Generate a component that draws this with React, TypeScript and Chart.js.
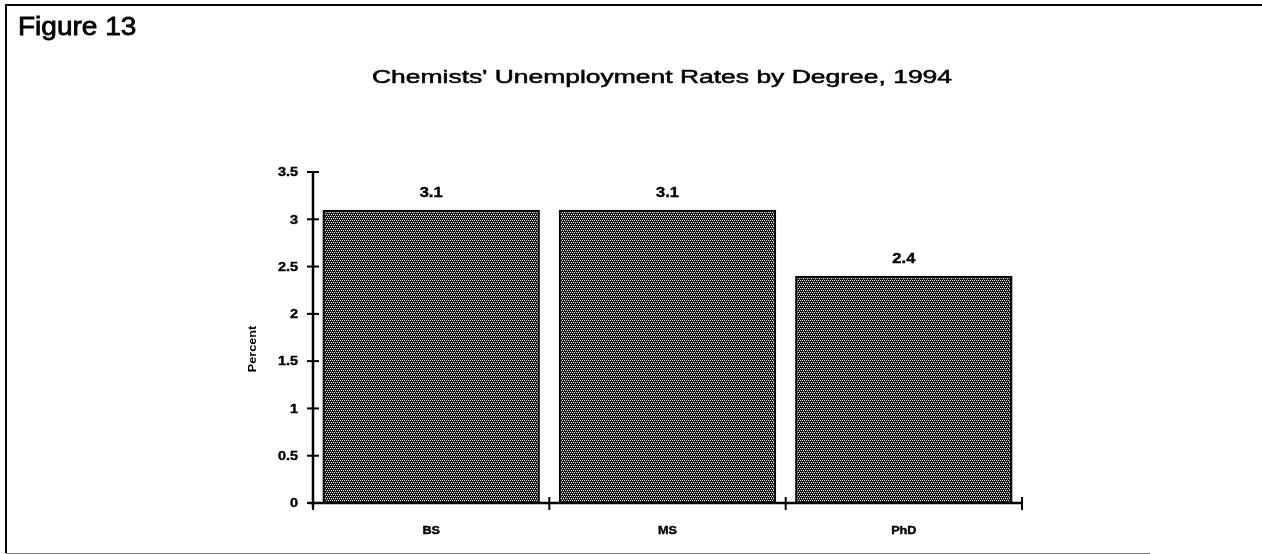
import React, { useEffect, useRef } from "react";
import { Chart, registerables } from "chart.js";

Chart.register(...registerables);

const figureLabel = "Figure 13";
const chartTitle = "Chemists' Unemployment Rates by Degree, 1994";
const categories = ["BS", "MS", "PhD"];
const rates = [3.1, 3.1, 2.4];
const rateLabels = ["3.1", "3.1", "2.4"];
const yTickValues = [0, 0.5, 1, 1.5, 2, 2.5, 3, 3.5];
const yTickLabels = ["0", "0.5", "1", "1.5", "2", "2.5", "3", "3.5"];
const yAxisTitle = "Percent";

const FONT = "Arial, 'Liberation Sans', sans-serif";

function makePattern(): CanvasPattern | string {
  const c = document.createElement("canvas");
  c.width = 4;
  c.height = 4;
  const g = c.getContext("2d");
  if (!g) return "#444";
  g.fillStyle = "#0a0a0a";
  g.fillRect(0, 0, 4, 4);
  g.fillStyle = "#f0f0f0";
  [[0, 0], [2, 0], [1, 2], [3, 2]].forEach(([x, y]) => g.fillRect(x, y, 1, 1));
  g.fillStyle = "#5a5a5a";
  [[1, 1], [3, 3]].forEach(([x, y]) => g.fillRect(x, y, 1, 1));
  const p = g.createPattern(c, "repeat");
  return p || "#444";
}

function drawText(
  ctx: CanvasRenderingContext2D,
  text: string,
  x: number,
  y: number,
  font: string,
  stretch: number,
  align: CanvasTextAlign,
  baseline: CanvasTextBaseline,
  heavy = 0
) {
  ctx.save();
  ctx.font = font;
  ctx.fillStyle = "#000";
  ctx.strokeStyle = "#000";
  ctx.textAlign = align;
  ctx.textBaseline = baseline;
  ctx.translate(x, y);
  ctx.scale(stretch, 1);
  ctx.fillText(text, 0, 0);
  if (heavy > 0) {
    ctx.lineWidth = heavy;
    ctx.strokeText(text, 0, 0);
  }
  ctx.restore();
}

const decorPlugin = {
  id: "decor",
  afterDraw(chart: any) {
    const ctx: CanvasRenderingContext2D = chart.ctx;
    const xs = chart.scales.x;
    const ys = chart.scales.y;
    const area = chart.chartArea;

    // frame
    ctx.save();
    ctx.strokeStyle = "#000";
    ctx.lineWidth = 2;
    ctx.beginPath();
    ctx.moveTo(6, 553);
    ctx.lineTo(6, 5);
    ctx.lineTo(1262, 5);
    ctx.stroke();
    ctx.strokeStyle = "#777";
    ctx.lineWidth = 1;
    ctx.beginPath();
    ctx.moveTo(6, 553.5);
    ctx.lineTo(1150, 553.5);
    ctx.stroke();
    ctx.restore();

    drawText(ctx, figureLabel, 18, 35, `25px ${FONT}`, 1.12, "left", "alphabetic", 0.8);
    drawText(ctx, chartTitle, 662, 83, `18px ${FONT}`, 1.47, "center", "alphabetic", 0.5);

    // axes lines
    const x0 = area.left;
    const yBottom = ys.getPixelForValue(0);
    const yTop = ys.getPixelForValue(3.5);
    ctx.save();
    ctx.strokeStyle = "#000";
    ctx.lineWidth = 2.5;
    ctx.beginPath();
    ctx.moveTo(x0, yTop);
    ctx.lineTo(x0, yBottom + 5);
    ctx.stroke();
    const xRight = xs.getPixelForValue(categories.length - 0.5);
    ctx.beginPath();
    ctx.moveTo(x0 - 5, yBottom);
    ctx.lineTo(xRight, yBottom);
    ctx.stroke();

    // y ticks
    ctx.lineWidth = 2;
    yTickValues.forEach((v, i) => {
      const py = ys.getPixelForValue(v);
      ctx.beginPath();
      ctx.moveTo(x0 - 6, py);
      ctx.lineTo(x0 + 6, py);
      ctx.stroke();
      drawText(ctx, yTickLabels[i], x0 - 15, py + 1, `bold 12px ${FONT}`, 1.2, "right", "middle", 0.4);
    });

    // x ticks at category boundaries
    for (let i = 0; i <= categories.length; i++) {
      const px = xs.getPixelForValue(i - 0.5);
      ctx.beginPath();
      ctx.moveTo(px, yBottom - 6);
      ctx.lineTo(px, yBottom + 7);
      ctx.stroke();
    }
    ctx.restore();

    categories.forEach((c, i) => {
      drawText(ctx, c, xs.getPixelForValue(i), 531, `bold 11.5px ${FONT}`, 1.1, "center", "middle", 0.4);
    });

    // y axis title
    ctx.save();
    ctx.translate(253, 349);
    ctx.rotate(-Math.PI / 2);
    ctx.font = `bold 11.5px ${FONT}`;
    ctx.fillStyle = "#000";
    ctx.textAlign = "center";
    ctx.textBaseline = "middle";
    ctx.scale(1.1, 1);
    ctx.fillText(yAxisTitle, 0, 0);
    ctx.restore();

    // data labels
    const meta = chart.getDatasetMeta(0);
    meta.data.forEach((el: any, i: number) => {
      drawText(ctx, rateLabels[i], el.x, el.y - 13, `bold 15px ${FONT}`, 1.1, "center", "alphabetic", 0.4);
    });
  },
};

export default function App() {
  const ref = useRef<HTMLCanvasElement>(null);
  useEffect(() => {
    document.body.style.margin = "0";
    const canvas = ref.current;
    if (!canvas) return;
    const chart = new Chart(canvas, {
      type: "bar",
      data: {
        labels: categories,
        datasets: [
          {
            data: rates,
            backgroundColor: makePattern() as any,
            borderColor: "#000",
            borderWidth: 2.5,
            borderSkipped: "bottom",
            barPercentage: 0.92,
            categoryPercentage: 1,
          },
        ],
      },
      options: {
        animation: false,
        responsive: false,
        devicePixelRatio: 1,
        layout: { padding: { left: 313, right: 240, top: 172, bottom: 51 } },
        plugins: { legend: { display: false }, title: { display: false }, tooltip: { enabled: false } },
        scales: {
          x: {
            offset: true,
            grid: { display: false },
            border: { display: false },
            ticks: { display: false },
            afterFit: (s: any) => {
              s.height = 0;
            },
          },
          y: {
            min: 0,
            max: 3.5,
            grid: { display: false },
            border: { display: false },
            ticks: { display: false, stepSize: 0.5 },
            afterFit: (s: any) => {
              s.width = 0;
            },
          },
        },
      },
      plugins: [decorPlugin],
    });
    return () => chart.destroy();
  }, []);
  return (
    <div style={{ width: 1262, height: 554, background: "#fff" }}>
      <canvas ref={ref} width={1262} height={554} style={{ display: "block", width: 1262, height: 554 }} />
    </div>
  );
}
